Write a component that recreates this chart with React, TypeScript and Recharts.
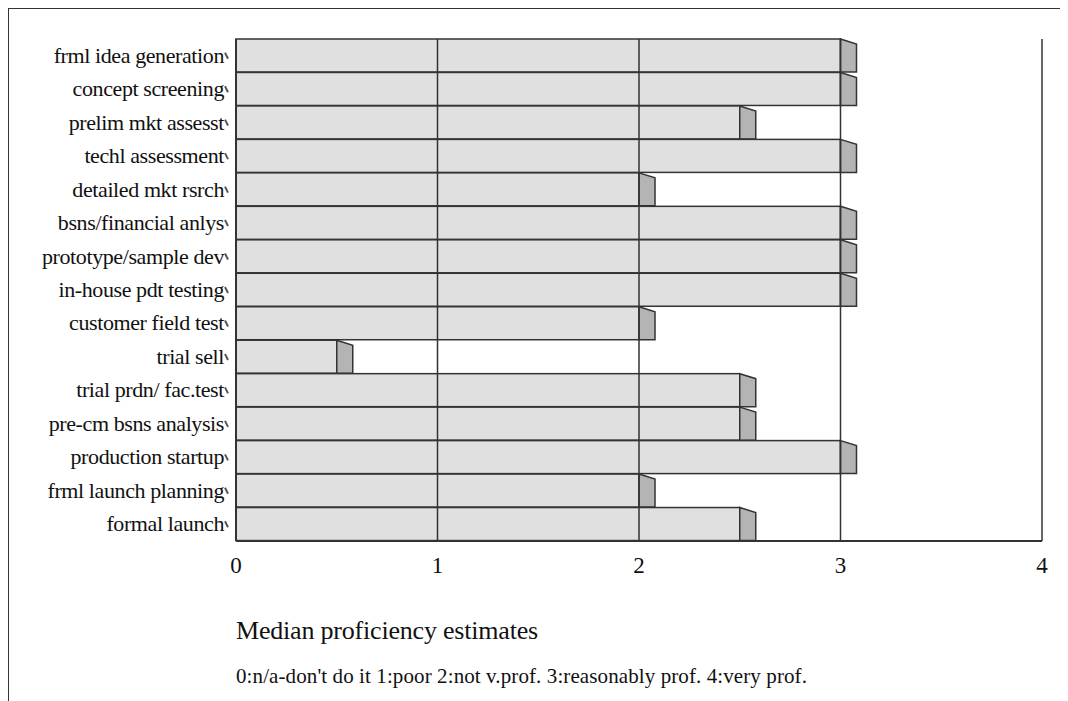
import React from "react";
import { BarChart, Bar, XAxis, YAxis, ReferenceLine } from "recharts";

const categories = [
  "frml idea generation",
  "concept screening",
  "prelim mkt assesst",
  "techl assessment",
  "detailed mkt rsrch",
  "bsns/financial anlys",
  "prototype/sample dev",
  "in-house pdt testing",
  "customer field test",
  "trial sell",
  "trial prdn/ fac.test",
  "pre-cm bsns analysis",
  "production startup",
  "frml launch planning",
  "formal launch",
];
const medians = [3, 3, 2.5, 3, 2, 3, 3, 3, 2, 0.5, 2.5, 2.5, 3, 2, 2.5];
const xTicks = [0, 1, 2, 3, 4];
const gridValues = [1, 2, 3, 4];
const title = "Median proficiency estimates";
const subtitle = "0:n/a-don't do it 1:poor 2:not v.prof. 3:reasonably prof. 4:very prof.";

const data = categories.map((c, i) => ({ name: c, value: medians[i] }));

const FONT = "'Liberation Serif', 'DejaVu Serif', serif";
const INK = "#333";

const Bar3D = (props: any) => {
  const { x, y, width, height } = props;
  if (width == null || height == null) return null;
  const d = 16;
  const s = 5;
  return (
    <g>
      <rect x={x} y={y} width={width} height={height} fill="#e0e0e0" stroke={INK} strokeWidth={1.5} />
      <polygon
        points={`${x + width},${y} ${x + width + d},${y + s} ${x + width + d},${y + height} ${x + width},${y + height}`}
        fill="#b4b4b4"
        stroke={INK}
        strokeWidth={1.5}
      />
    </g>
  );
};

const YTick = (props: any) => {
  const { x, y, payload } = props;
  return (
    <g>
      <text
        x={x - 4}
        y={y}
        dy={7}
        textAnchor="end"
        fontFamily={FONT}
        fontSize={22}
        letterSpacing={-0.4}
        fill="#111"
      >
        {payload.value}
      </text>
      <line x1={x - 3} x2={x} y1={y - 3} y2={y + 3} stroke="#555" strokeWidth={2} />
    </g>
  );
};

export default function App() {
  return (
    <div
      style={{
        position: "relative",
        width: 1060,
        height: 693,
        borderTop: `1.5px solid ${INK}`,
        borderLeft: `1.5px solid ${INK}`,
        boxSizing: "border-box",
        background: "#fff",
      }}
    >
      <div style={{ position: "absolute", left: -1.5, top: -1.5 }}>
        <BarChart
          width={1060}
          height={693}
          data={data}
          layout="vertical"
          barCategoryGap={0}
          margin={{ top: 31, right: 26, bottom: 120, left: 0 }}
        >
          <XAxis
            type="number"
            domain={[0, 4]}
            ticks={xTicks}
            tickLine={false}
            axisLine={{ stroke: INK, strokeWidth: 2 }}
            tick={{ fontFamily: FONT, fontSize: 23, fill: "#111" }}
            tickMargin={10}
            height={40}
          />
          <YAxis
            type="category"
            dataKey="name"
            width={228}
            tickLine={false}
            axisLine={{ stroke: INK, strokeWidth: 2 }}
            tick={<YTick />}
            interval={0}
          />
          <Bar dataKey="value" shape={<Bar3D />} isAnimationActive={false} />
          {gridValues.map((v) => (
            <ReferenceLine key={v} x={v} stroke={INK} strokeWidth={1.5} ifOverflow="visible" />
          ))}
        </BarChart>
      </div>
      <div
        style={{
          position: "absolute",
          left: 227,
          top: 607,
          fontFamily: FONT,
          fontSize: 26,
          letterSpacing: -0.2,
          color: "#111",
          whiteSpace: "nowrap",
        }}
      >
        {title}
      </div>
      <div
        style={{
          position: "absolute",
          left: 227,
          top: 655,
          fontFamily: FONT,
          fontSize: 21,
          letterSpacing: 0.1,
          color: "#111",
          whiteSpace: "nowrap",
        }}
      >
        {subtitle}
      </div>
    </div>
  );
}
